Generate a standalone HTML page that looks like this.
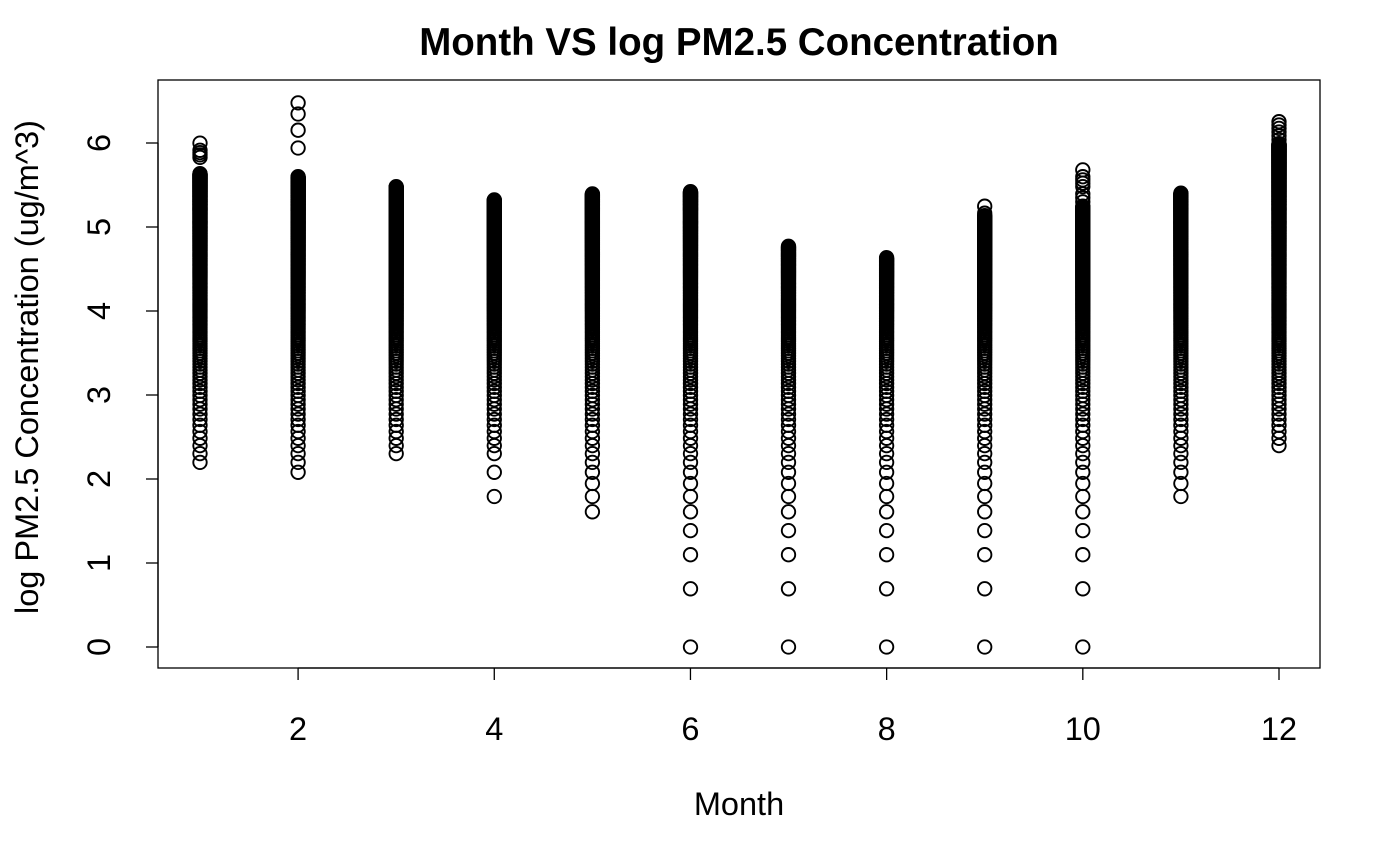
<!DOCTYPE html>
<html><head><meta charset="utf-8"><style>
html,body{margin:0;padding:0;background:#fff;}
svg{display:block;font-family:"Liberation Sans",Arial,sans-serif;}
</style></head><body>
<svg id="chart" width="1400" height="865" viewBox="0 0 1400 865">
<text x="739" y="55" text-anchor="middle" font-size="38.5" font-weight="bold">Month VS log PM2.5 Concentration</text>
<rect x="158" y="80" width="1162" height="588" fill="none" stroke="#000" stroke-width="1.3"/>
<g id="points"></g>
<g id="xaxis"></g>
<g id="yaxis"></g>
<text x="739" y="815" text-anchor="middle" font-size="32.5">Month</text>
<text transform="translate(38,367) rotate(-90)" text-anchor="middle" font-size="32.5">log PM2.5 Concentration (ug/m^3)</text>
</svg>
<script>
// data: per month, the continuous integer concentration range [lo, hi] and extra high outliers
var months = [1,2,3,4,5,6,7,8,9,10,11,12];
var rangeLo = [9,8,10,10,7,1,1,1,1,1,6,11];
var rangeHi = [280,270,240,205,220,226,118,103,170,190,222,400];
var sparseLow = [[],[],[],[6,8],[5,6],[],[],[],[],[],[],[]];
var highOutliers = [[340,350,360,370,403],[380,470,570,650],[],[],[],[],[],[],[175,190],[200,210,220,240,250,260,270,293],[],[420,440,460,480,500,520]];
var xTicks = [2,4,6,8,10,12];
var yTicks = [0,1,2,3,4,5,6];

var NS="http://www.w3.org/2000/svg";
function xs(m){return 200+(m-1)*(1279-200)/11;}
function ys(v){return 647-v*(647-143)/6;}
var pg=document.getElementById('points');
function dot(m,v){
  var c=document.createElementNS(NS,'circle');
  c.setAttribute('cx',xs(m).toFixed(1));
  c.setAttribute('cy',ys(v).toFixed(1));
  c.setAttribute('r',6.7);
  c.setAttribute('fill','none');
  c.setAttribute('stroke','#000');
  c.setAttribute('stroke-width','1.9');
  
  
  pg.appendChild(c);
}
months.forEach(function(m,i){
  sparseLow[i].forEach(function(n){dot(m,Math.log(n));});
  for(var n=rangeLo[i];n<=rangeHi[i];n++){dot(m,Math.log(n));}
  highOutliers[i].forEach(function(n){dot(m,Math.log(n));});
});
var xa=document.getElementById('xaxis');
var l=document.createElementNS(NS,'line');
l.setAttribute('x1',xs(xTicks[0]));l.setAttribute('x2',xs(xTicks[xTicks.length-1]));
l.setAttribute('y1',668);l.setAttribute('y2',668);l.setAttribute('stroke','#000');l.setAttribute('stroke-width','1.3');


xa.appendChild(l);
xTicks.forEach(function(t){
  var tk=document.createElementNS(NS,'line');
  tk.setAttribute('x1',xs(t));tk.setAttribute('x2',xs(t));tk.setAttribute('y1',668);tk.setAttribute('y2',680);
  tk.setAttribute('stroke','#000');tk.setAttribute('stroke-width','1.3');
  
  
  xa.appendChild(tk);
  var tx=document.createElementNS(NS,'text');
  tx.setAttribute('x',xs(t));tx.setAttribute('y',740);tx.setAttribute('text-anchor','middle');tx.setAttribute('font-size','32.5');
  tx.textContent=t;
  
  
  xa.appendChild(tx);
});
var ya=document.getElementById('yaxis');
var l2=document.createElementNS(NS,'line');
l2.setAttribute('x1',158);l2.setAttribute('x2',158);
l2.setAttribute('y1',ys(yTicks[0]));l2.setAttribute('y2',ys(yTicks[yTicks.length-1]));l2.setAttribute('stroke','#000');l2.setAttribute('stroke-width','1.3');


ya.appendChild(l2);
yTicks.forEach(function(t){
  var tk=document.createElementNS(NS,'line');
  tk.setAttribute('x1',146);tk.setAttribute('x2',158);tk.setAttribute('y1',ys(t));tk.setAttribute('y2',ys(t));
  tk.setAttribute('stroke','#000');tk.setAttribute('stroke-width','1.3');
  
  
  ya.appendChild(tk);
  var tx=document.createElementNS(NS,'text');
  tx.setAttribute('transform','translate(110,'+ys(t)+') rotate(-90)');
  tx.setAttribute('text-anchor','middle');tx.setAttribute('font-size','32.5');
  tx.textContent=t;
  
  
  ya.appendChild(tx);
});
</script>
</body></html>
